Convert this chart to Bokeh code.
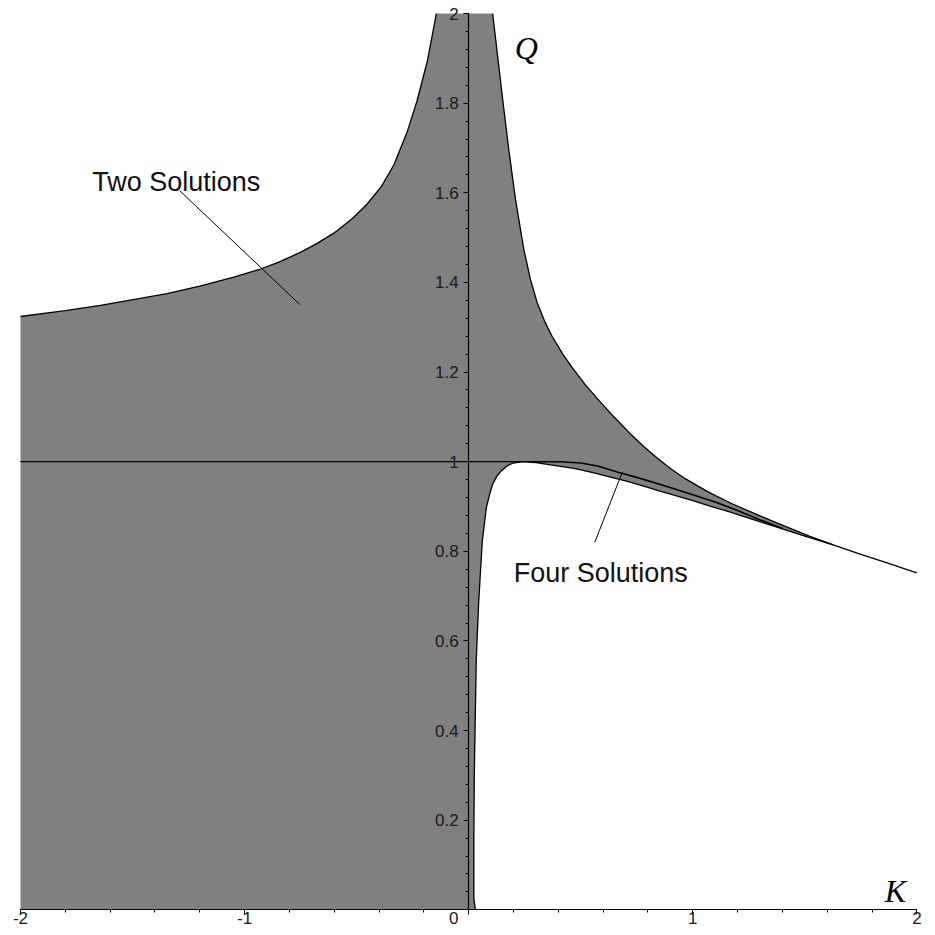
import numpy as np
from bokeh.plotting import figure
from bokeh.models import Range1d, LinearAxis, FixedTicker
from bokeh.core.properties import value
from bokeh.embed import file_html
from bokeh.resources import INLINE

# ---- data ----
left_upper_K = [-2.0, -1.8, -1.643, -1.346, -1.2, -1.048, -0.929, -0.85, -0.751, -0.68, -0.602,
                -0.52, -0.453, -0.39, -0.334, -0.275, -0.230, -0.185, -0.148, -0.145]
left_upper_Q = [1.324, 1.337, 1.349, 1.375, 1.392, 1.412, 1.430, 1.445, 1.467, 1.486, 1.510,
                1.542, 1.575, 1.614, 1.662, 1.735, 1.806, 1.893, 1.990, 2.0]

right_upper_K = [0.107, 0.127, 0.152, 0.179, 0.209, 0.246, 0.275, 0.305, 0.34, 0.372, 0.42,
                 0.462, 0.52, 0.588, 0.65, 0.722, 0.781, 0.841, 0.90, 0.96, 1.07, 1.18, 1.30,
                 1.41, 1.52, 1.63, 1.74, 1.85, 2.0]
right_upper_Q = [2.0, 1.914, 1.807, 1.696, 1.585, 1.474, 1.408, 1.356, 1.312, 1.280, 1.240,
                 1.210, 1.172, 1.133, 1.099, 1.062, 1.034, 1.008, 0.985, 0.964, 0.932, 0.905,
                 0.879, 0.856, 0.834, 0.814, 0.795, 0.777, 0.752]

lower_K = [0.030, 0.023, 0.023, 0.025, 0.029, 0.034, 0.044, 0.052, 0.061, 0.079, 0.095, 0.108,
           0.125, 0.146, 0.170, 0.198, 0.242, 0.30, 0.38, 0.47, 0.55, 0.62, 0.70, 0.77, 0.85,
           0.92, 1.0, 1.07, 1.15, 1.25, 1.33, 1.40, 1.50, 1.63]
lower_Q = [0.0, 0.025, 0.15, 0.30, 0.42, 0.56, 0.68, 0.75, 0.824, 0.898, 0.930, 0.951,
           0.967, 0.980, 0.990, 0.997, 1.0, 0.998, 0.992, 0.985, 0.976, 0.967, 0.957, 0.947, 0.935,
           0.925, 0.913, 0.902, 0.890, 0.874, 0.861, 0.850, 0.834, 0.814]

mid_K = [0.29, 0.41, 0.50, 0.58, 0.67, 0.75, 0.83, 0.92, 1.0, 1.1, 1.2, 1.3, 1.4]
mid_Q = [1.0, 1.0, 0.997, 0.990, 0.976, 0.965, 0.953, 0.939, 0.926, 0.910, 0.891, 0.870, 0.851]

unity_K = [-2.0, 0.29]
unity_Q = [1.0, 1.0]

K_MIN, K_MAX = -2.0, 2.0
Q_MIN, Q_MAX = 0.0, 2.0

x_ticks = [-2, -1, 0, 1, 2]
x_tick_labels = ["-2", "-1", "0", "1", "2"]
y_ticks = [0.2, 0.4, 0.6, 0.8, 1.0, 1.2, 1.4, 1.6, 1.8, 2.0]
y_tick_labels = ["0.2", "0.4", "0.6", "0.8", "1", "1.2", "1.4", "1.6", "1.8", "2"]
x_minor_step = 0.2
y_minor_step = 0.04

# ---- figure ----
W, H = 932, 933
p = figure(width=W, height=H,
           x_range=Range1d(-2.0892, 2.0697), y_range=Range1d(-0.0529, 2.0292),
           x_axis_type=None, y_axis_type=None,
           output_backend="svg", toolbar_location=None, min_border=0)
p.outline_line_color = None
p.background_fill_color = "white"
p.border_fill_color = "white"

GRAY = "#808080"
LW = 1.3

# filled region (built from the curve arrays)
upper_part_K = [k for k in right_upper_K if k <= lower_K[-1]]
upper_part_Q = right_upper_Q[:len(upper_part_K)]
poly_K = left_upper_K + upper_part_K + lower_K[::-1] + [K_MIN]
poly_Q = left_upper_Q + upper_part_Q + lower_Q[::-1] + [Q_MIN]
p.patch(poly_K, poly_Q, fill_color=GRAY, line_color=None)

# curves
p.line(left_upper_K, left_upper_Q, line_color="black", line_width=LW)
p.line(right_upper_K, right_upper_Q, line_color="black", line_width=LW)
p.line(lower_K, lower_Q, line_color="black", line_width=LW)
p.line(mid_K, mid_Q, line_color="black", line_width=1.6)
p.line(unity_K, unity_Q, line_color="black", line_width=LW)

# axes crossing at the origin
x_minor = [float(v) for v in np.round(np.arange(K_MIN, K_MAX + 1e-9, x_minor_step), 3)]
y_minor = [float(v) for v in np.round(np.arange(y_minor_step, Q_MAX + 1e-9, y_minor_step), 3)]
x_over = dict(zip(x_ticks, x_tick_labels))
x_over[0] = ""          # origin label is drawn separately, left of the vertical axis
xaxis = LinearAxis(fixed_location=0, bounds=(K_MIN, K_MAX),
                   ticker=FixedTicker(ticks=x_ticks, minor_ticks=x_minor))
xaxis.major_label_overrides = x_over
yaxis = LinearAxis(fixed_location=0, bounds=(Q_MIN, Q_MAX),
                   ticker=FixedTicker(ticks=y_ticks, minor_ticks=y_minor))
yaxis.major_label_overrides = dict(zip(y_ticks, y_tick_labels))
for ax in (xaxis, yaxis):
    ax.axis_line_color = "black"
    ax.axis_line_width = 1.2
    ax.major_tick_line_color = "black"
    ax.minor_tick_line_color = "black"
    ax.major_tick_in = 0
    ax.minor_tick_in = 0
    ax.major_tick_out = 5
    ax.minor_tick_out = 3
    ax.major_label_text_font = "Liberation Sans"
    ax.major_label_text_font_size = "17px"
    ax.major_label_text_color = "#1a1a1a"
xaxis.major_label_standoff = -3
yaxis.major_label_standoff = 5
p.add_layout(xaxis, "below")
p.add_layout(yaxis, "left")

p.text(x=[0], y=[0], text=[x_tick_labels[2]], x_offset=-15, y_offset=2,
       text_font=value("Liberation Sans"), text_font_size="17px",
       text_color="#1a1a1a", text_align="center", text_baseline="top")

# axis names
p.text(x=[0.205], y=[1.924], text=["Q"], text_font=value("Liberation Serif"),
       text_font_style="italic", text_font_size="32px", text_color="black",
       text_align="left", text_baseline="alphabetic")
p.text(x=[1.857], y=[0.043], text=["K"], text_font=value("Liberation Serif"),
       text_font_style="italic", text_font_size="32px", text_color="black",
       text_align="left", text_baseline="alphabetic")

# region labels with pointer lines
p.text(x=[-1.680], y=[1.624], text=["Two Solutions"], text_font=value("Liberation Sans"),
       text_font_size="27px", text_color="#111111",
       text_align="left", text_baseline="alphabetic")
p.line([-1.290, -0.754], [1.605, 1.351], line_color="black", line_width=1)

p.text(x=[0.201], y=[0.7505], text=["Four Solutions"], text_font=value("Liberation Sans"),
       text_font_size="27px", text_color="#111111",
       text_align="left", text_baseline="alphabetic")
p.line([0.5625, 0.686], [0.820, 0.977], line_color="black", line_width=1)

open("out.html", "w").write(file_html(p, INLINE))
